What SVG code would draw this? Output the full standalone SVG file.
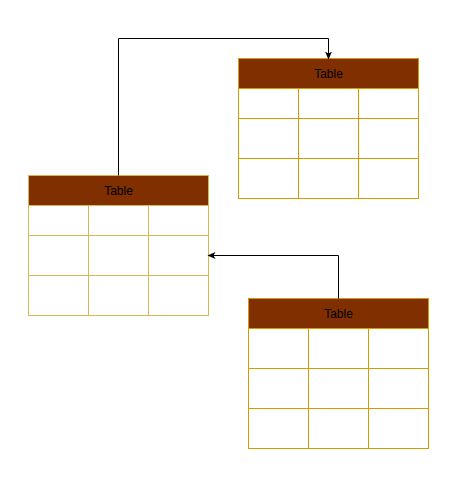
<svg xmlns="http://www.w3.org/2000/svg" width="457" height="487" viewBox="0 0 457 487">
<defs>
<marker id="arr" markerWidth="9" markerHeight="9" refX="7" refY="4.5" orient="auto" markerUnits="userSpaceOnUse">
<path d="M0,1 L8,4.5 L0,8 L2,4.5 Z" fill="#000"/>
</marker>
</defs>
<style>
.hdr{fill:#7f2f00}
.t1 rect,.t1 line{stroke:#d79b00;stroke-width:1}
.t2 rect,.t2 line{stroke:#d6b656;stroke-width:1}
.cell{fill:#fff}
.lbl{font-family:"Liberation Sans",Arial,sans-serif;font-size:12px;fill:#000;text-anchor:middle}
.conn{fill:none;stroke:#000;stroke-width:1;marker-end:url(#arr)}
</style>
<rect width="457" height="487" fill="#fff"/>
<g transform="translate(0.5,0.5)">
<g id="table1" class="t1">
<rect class="cell" x="238" y="88" width="180" height="110"/>
<rect class="hdr" x="238" y="58" width="180" height="30"/>
<line x1="238" y1="118" x2="418" y2="118"/>
<line x1="238" y1="158" x2="418" y2="158"/>
<line x1="298" y1="88" x2="298" y2="198"/>
<line x1="358" y1="88" x2="358" y2="198"/>
<text class="lbl" x="328" y="77.5">Table</text>
</g>
<g id="table2" class="t2">
<rect class="cell" x="28" y="205" width="180" height="110"/>
<rect class="hdr" x="28" y="175" width="180" height="30"/>
<line x1="28" y1="235" x2="208" y2="235"/>
<line x1="28" y1="275" x2="208" y2="275"/>
<line x1="88" y1="205" x2="88" y2="315"/>
<line x1="148" y1="205" x2="148" y2="315"/>
<text class="lbl" x="118" y="194.5">Table</text>
</g>
<g id="table3" class="t1">
<rect class="cell" x="248" y="328" width="180" height="120"/>
<rect class="hdr" x="248" y="298" width="180" height="30"/>
<line x1="248" y1="368" x2="428" y2="368"/>
<line x1="248" y1="408" x2="428" y2="408"/>
<line x1="308" y1="328" x2="308" y2="448"/>
<line x1="368" y1="328" x2="368" y2="448"/>
<text class="lbl" x="338" y="317.5">Table</text>
</g>
<g id="connectors">
<path class="conn" d="M118,175 L118,38 L328,38 L328,58"/>
<path class="conn" d="M338,298 L338,255 L208,255"/>
</g>
</g>
</svg>
